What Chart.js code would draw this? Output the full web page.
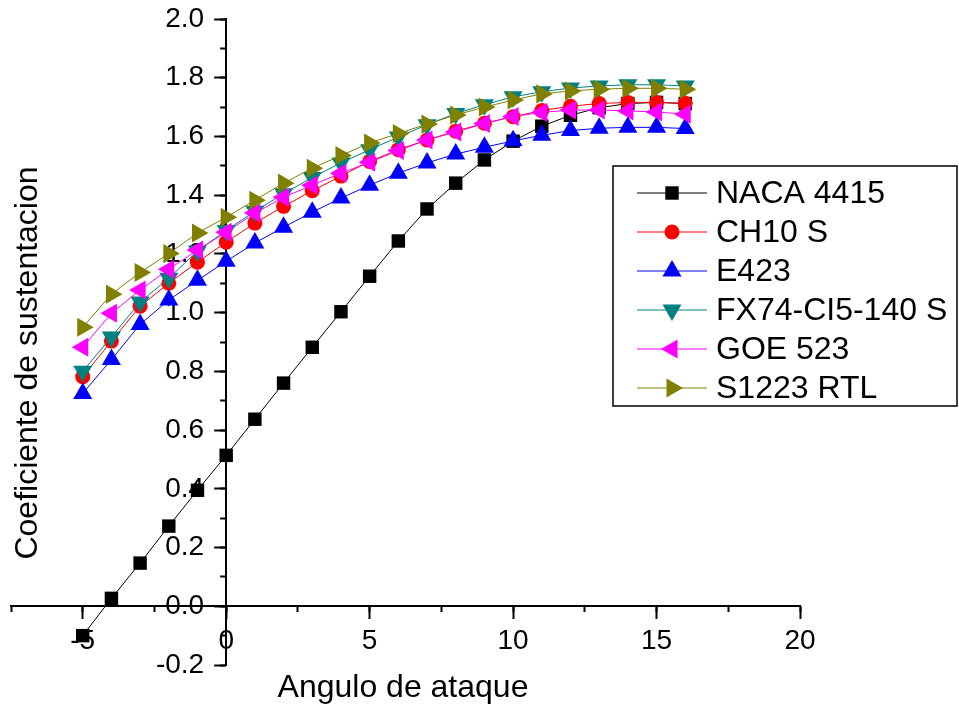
<!DOCTYPE html>
<html lang="es">
<head>
<meta charset="UTF-8">
<title>Coeficiente de sustentacion vs Angulo de ataque</title>
<script src="https://cdn.jsdelivr.net/npm/chart.js"></script>
<style>
  html, body { margin: 0; padding: 0; background: #fff; }
  .wrap { position: relative; width: 959px; height: 708px; }
</style>
</head>
<body>
<div class="wrap"><canvas id="liftChart"></canvas></div>
<script>
// angle of attack (deg)
const angles = [-5, -4, -3, -2, -1, 0, 1, 2, 3, 4, 5, 6, 7, 8, 9, 10, 11, 12, 13, 14, 15, 16];

// lift coefficient per airfoil
const naca4415 = [-0.10, 0.027, 0.147, 0.273, 0.395, 0.514, 0.637, 0.760, 0.882, 1.003, 1.124, 1.244, 1.353, 1.441, 1.520, 1.584, 1.635, 1.672, 1.698, 1.712, 1.716, 1.712];
const ch10s    = [0.782, 0.903, 1.022, 1.100, 1.172, 1.240, 1.305, 1.362, 1.415, 1.465, 1.515, 1.555, 1.588, 1.618, 1.645, 1.667, 1.688, 1.703, 1.712, 1.716, 1.716, 1.713];
const e423     = [0.725, 0.840, 0.960, 1.043, 1.110, 1.175, 1.237, 1.291, 1.342, 1.390, 1.434, 1.475, 1.510, 1.540, 1.563, 1.585, 1.604, 1.620, 1.628, 1.631, 1.631, 1.627];
const fx74     = [0.800, 0.917, 1.036, 1.117, 1.210, 1.280, 1.345, 1.405, 1.460, 1.510, 1.555, 1.598, 1.640, 1.678, 1.708, 1.735, 1.752, 1.765, 1.772, 1.776, 1.776, 1.772];
const goe523   = [0.882, 0.998, 1.077, 1.148, 1.213, 1.274, 1.339, 1.393, 1.434, 1.475, 1.512, 1.552, 1.588, 1.615, 1.644, 1.668, 1.682, 1.690, 1.690, 1.687, 1.683, 1.676];
const s1223    = [0.950, 1.063, 1.137, 1.201, 1.271, 1.325, 1.383, 1.441, 1.492, 1.535, 1.578, 1.610, 1.642, 1.673, 1.700, 1.724, 1.745, 1.755, 1.761, 1.764, 1.764, 1.761];

const seriesNames = ['NACA 4415', 'CH10 S', 'E423', 'FX74-CI5-140 S', 'GOE 523', 'S1223 RTL'];

// tick values
const xTicks = [-5, 0, 5, 10, 15, 20];
const xMinorTicks = [-7.5, -5, -2.5, 0, 2.5, 5, 7.5, 10, 12.5, 15, 17.5, 20];
const yTicks = [-0.2, 0.0, 0.2, 0.4, 0.6, 0.8, 1.0, 1.2, 1.4, 1.6, 1.8, 2.0];
const yMinorTicks = [-0.2, -0.1, 0.0, 0.1, 0.2, 0.3, 0.4, 0.5, 0.6, 0.7, 0.8, 0.9, 1.0, 1.1, 1.2, 1.3, 1.4, 1.5, 1.6, 1.7, 1.8, 1.9, 2.0];

const FONT = '"Liberation Sans", Arial, sans-serif';

// marker looks, same order as seriesNames
const looks = [
  { color: '#000000', style: 'rect',     rot: 0,   r: 9.5 },
  { color: '#ff0000', style: 'circle',   rot: 0,   r: 7.5 },
  { color: '#0000ff', style: 'triangle', rot: 0,   r: 11 },
  { color: '#008080', style: 'triangle', rot: 180, r: 11 },
  { color: '#ff00ff', style: 'triangle', rot: 270, r: 11 },
  { color: '#808000', style: 'triangle', rot: 90,  r: 11 }
];

const allSeries = [naca4415, ch10s, e423, fx74, goe523, s1223];

const datasets = allSeries.map((vals, i) => ({
  label: seriesNames[i],
  data: angles.map((a, k) => ({ x: a, y: vals[k] })),
  borderColor: looks[i].color,
  backgroundColor: looks[i].color,
  borderWidth: 1,
  pointStyle: looks[i].style,
  pointRotation: looks[i].rot,
  pointRadius: looks[i].r,
  pointBorderWidth: 0,
  pointBackgroundColor: looks[i].color,
  order: allSeries.length - i   // later series drawn on top
}));

const setTicks = vals => s => { s.ticks = vals.map(v => ({ value: v })); };
// scales take no room and ask for no overflow padding
const flatH = s => { s.height = 0; s.paddingLeft = 0; s.paddingRight = 0; };
const flatW = s => { s.width = 0; s.paddingTop = 0; s.paddingBottom = 0; };

// y axes are laid out on the left edge, then moved to x = 0 so they cross the x axis
const crossPlugin = {
  id: 'cross',
  afterLayout(chart) {
    const x0 = chart.scales.x.getPixelForValue(0);
    ['y', 'yMinor'].forEach(id => {
      const s = chart.scales[id];
      s.left = 0;          // labels are clipped to the scale box
      s.right = x0;
      s.width = x0;
      s._labelItems = null;
      s._gridLineItems = null;
    });
  }
};

// axis titles + boxed legend
const decorPlugin = {
  id: 'decor',
  afterDraw(chart) {
    const ctx = chart.ctx;
    ctx.save();
    ctx.fillStyle = '#000';
    ctx.font = '32px ' + FONT;
    ctx.textAlign = 'center';
    ctx.textBaseline = 'middle';
    ctx.fillText('Angulo de ataque', 403, 688);
    ctx.translate(28, 363);
    ctx.rotate(-Math.PI / 2);
    ctx.fillText('Coeficiente de sustentacion', 0, 0);
    ctx.restore();

    // legend
    ctx.save();
    ctx.fillStyle = '#fff';
    ctx.fillRect(613, 166, 344, 240);
    ctx.strokeStyle = '#000';
    ctx.lineWidth = 1.5;
    ctx.strokeRect(613, 166, 344, 240);
    ctx.font = '32px ' + FONT;
    ctx.textAlign = 'left';
    ctx.textBaseline = 'middle';
    seriesNames.forEach((name, i) => {
      const y = 193 + i * 39;
      ctx.strokeStyle = looks[i].color;
      ctx.lineWidth = 1;
      ctx.beginPath();
      ctx.moveTo(637, y);
      ctx.lineTo(707, y);
      ctx.stroke();
      ctx.fillStyle = looks[i].color;
      Chart.helpers.drawPoint(ctx, {
        pointStyle: looks[i].style,
        rotation: looks[i].rot,
        radius: looks[i].r,
        borderWidth: 0
      }, 672, y);
      ctx.fillStyle = '#000';
      ctx.fillText(name, 716, y + 1);
    });
    ctx.restore();
  }
};

const tickFont = { family: FONT, size: 28 };

new Chart(document.getElementById('liftChart'), {
  type: 'line',
  data: { datasets },
  options: {
    responsive: true,
    maintainAspectRatio: false,
    animation: false,
    devicePixelRatio: 1,
    layout: { padding: { left: 11, right: 159, top: 19, bottom: 43 } },
    plugins: { legend: { display: false }, tooltip: { enabled: false } },
    scales: {
      x: {
        type: 'linear',
        min: -7.5, max: 20,
        position: { y: 0 },
        afterFit: flatH,
        afterBuildTicks: setTicks(xTicks),
        border: { display: true, color: '#000', width: 2 },
        grid: { drawOnChartArea: false, drawTicks: true, tickLength: 12, tickWidth: 2, tickColor: '#000' },
        ticks: { color: '#000', font: tickFont, padding: 6, maxRotation: 0, autoSkip: false }
      },
      xMinor: {
        type: 'linear',
        axis: 'x',
        min: -7.5, max: 20,
        position: { y: 0 },
        afterFit: flatH,
        afterBuildTicks: setTicks(xMinorTicks),
        border: { display: false },
        grid: { drawOnChartArea: false, drawTicks: true, tickLength: 6, tickWidth: 2, tickColor: '#000' },
        ticks: { autoSkip: false, callback: () => '' }
      },
      y: {
        type: 'linear',
        min: -0.2, max: 2.0,
        position: 'left',
        afterFit: flatW,
        afterBuildTicks: setTicks(yTicks),
        border: { display: true, color: '#000', width: 2 },
        grid: { drawOnChartArea: false, drawTicks: true, tickLength: 12, tickWidth: 2, tickColor: '#000' },
        ticks: { color: '#000', font: tickFont, padding: 10, autoSkip: false, callback: v => v.toFixed(1) }
      },
      yMinor: {
        type: 'linear',
        axis: 'y',
        min: -0.2, max: 2.0,
        position: 'left',
        afterFit: flatW,
        afterBuildTicks: setTicks(yMinorTicks),
        border: { display: false },
        grid: { drawOnChartArea: false, drawTicks: true, tickLength: 6, tickWidth: 2, tickColor: '#000' },
        ticks: { autoSkip: false, callback: () => '' }
      }
    }
  },
  plugins: [crossPlugin, decorPlugin]
});
</script>
</body>
</html>
